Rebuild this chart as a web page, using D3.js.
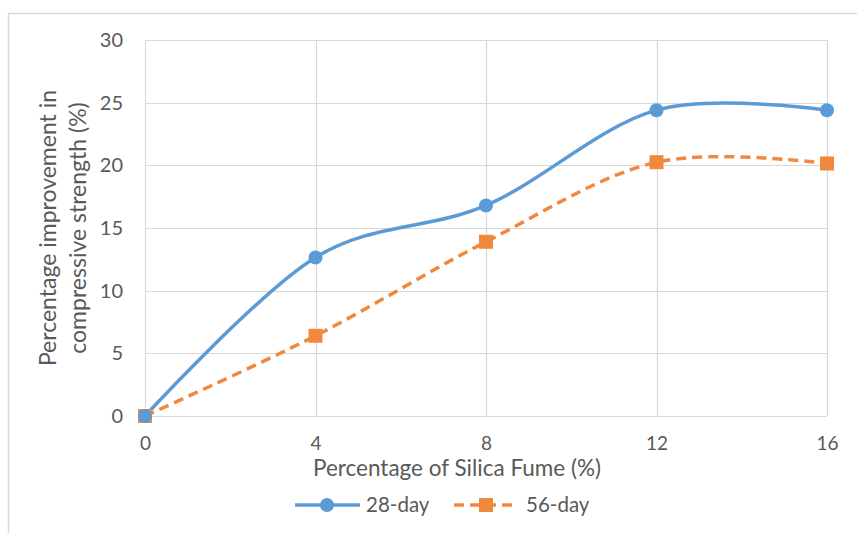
<!DOCTYPE html>
<html><head><meta charset="utf-8">
<script src="https://cdn.jsdelivr.net/npm/d3@7"></script>
<style>body{margin:0;background:#fff}svg{display:block}text{font-family:Lato,"Open Sans",sans-serif;fill:#595959}</style>
</head><body><svg id="c" width="857" height="533"></svg>
<script>
const xValues = [0, 4, 8, 12, 16];
const day28 = [0, 12.65, 16.8, 24.4, 24.4];
const day56 = [0, 6.4, 13.9, 20.25, 20.15];
const yTicks = [0, 5, 10, 15, 20, 25, 30];
const seriesNames = ["28-day", "56-day"];

const svg = d3.select("#c");
const m = {l:145, r:827, t:40, b:416};
const x = d3.scaleLinear().domain([0,16]).range([m.l, m.r]);
const y = d3.scaleLinear().domain([0,30]).range([m.b, m.t]);
const grid = "#d9d9d9";

// outer border
svg.append("path").attr("d","M8.5,533 V13.5 H857").attr("fill","none").attr("stroke","#d9d9d9").attr("stroke-width",1.5);

// gridlines
svg.append("g").selectAll("line").data(yTicks).join("line")
  .attr("x1",m.l).attr("x2",m.r).attr("y1",d=>Math.round(y(d))+0.5).attr("y2",d=>Math.round(y(d))+0.5)
  .attr("stroke",grid).attr("stroke-width",1.2);
svg.append("g").selectAll("line").data(xValues).join("line")
  .attr("y1",m.t).attr("y2",m.b).attr("x1",d=>Math.round(x(d))+0.5).attr("x2",d=>Math.round(x(d))+0.5)
  .attr("stroke",grid).attr("stroke-width",1.2);

// axes labels via d3 axes
const yAxis = svg.append("g").attr("transform",`translate(${m.l},0)`)
  .call(d3.axisLeft(y).tickValues(yTicks).tickSize(0).tickPadding(22));
yAxis.select(".domain").remove();
yAxis.selectAll("text").style("font-size","20px").style("font-family","Lato").attr("fill","#595959");
const xAxis = svg.append("g").attr("transform",`translate(0,${m.b})`)
  .call(d3.axisBottom(x).tickValues(xValues).tickSize(0).tickPadding(21));
xAxis.select(".domain").remove();
xAxis.selectAll("text").style("font-size","19px").style("font-family","Lato").attr("fill","#595959");

// axis titles
svg.append("text").attr("x",457).attr("y",476).attr("text-anchor","middle").style("font-size","22.5px").text("Percentage of Silica Fume (%)");
const yt = svg.append("text").attr("transform","translate(0,228) rotate(-90)").attr("text-anchor","middle").style("font-size","23px");
yt.append("tspan").attr("x",0).attr("y",56).text("Percentage improvement in");
yt.append("tspan").attr("x",0).attr("y",86).text("compressive strength (%)");

const colors = ["#5b9bd5", "#f0883e"];
const line = d3.line().x((d,i)=>x(xValues[i])).y(d=>y(d)).curve(d3.curveCardinal.tension(0));

svg.append("path").datum(day56).attr("d",line).attr("fill","none").attr("stroke",colors[1])
  .attr("stroke-width",3.5).attr("stroke-dasharray","10,6");
svg.append("path").datum(day28).attr("d",line).attr("fill","none").attr("stroke",colors[0])
  .attr("stroke-width",3.5);

svg.append("g").selectAll("rect").data(day56).join("rect")
  .attr("x",(d,i)=>x(xValues[i])-7).attr("y",d=>y(d)-7).attr("width",14).attr("height",14).attr("fill",colors[1]);
svg.append("g").selectAll("circle").data(day28).join("circle")
  .attr("cx",(d,i)=>x(xValues[i])).attr("cy",d=>y(d)).attr("r",7).attr("fill",colors[0]);

// legend
const lg = svg.append("g");
lg.append("line").attr("x1",295).attr("x2",360).attr("y1",505).attr("y2",505).attr("stroke",colors[0]).attr("stroke-width",3.5);
lg.append("circle").attr("cx",327).attr("cy",505).attr("r",7).attr("fill",colors[0]);
lg.append("text").attr("x",366).attr("y",512).style("font-size","20.5px").text(seriesNames[0]);
lg.append("line").attr("x1",454).attr("x2",518).attr("y1",505).attr("y2",505).attr("stroke",colors[1]).attr("stroke-width",3.5).attr("stroke-dasharray","10,6");
lg.append("rect").attr("x",479).attr("y",498).attr("width",14).attr("height",14).attr("fill",colors[1]);
lg.append("text").attr("x",526).attr("y",512).style("font-size","20.5px").text(seriesNames[1]);
</script></body></html>
